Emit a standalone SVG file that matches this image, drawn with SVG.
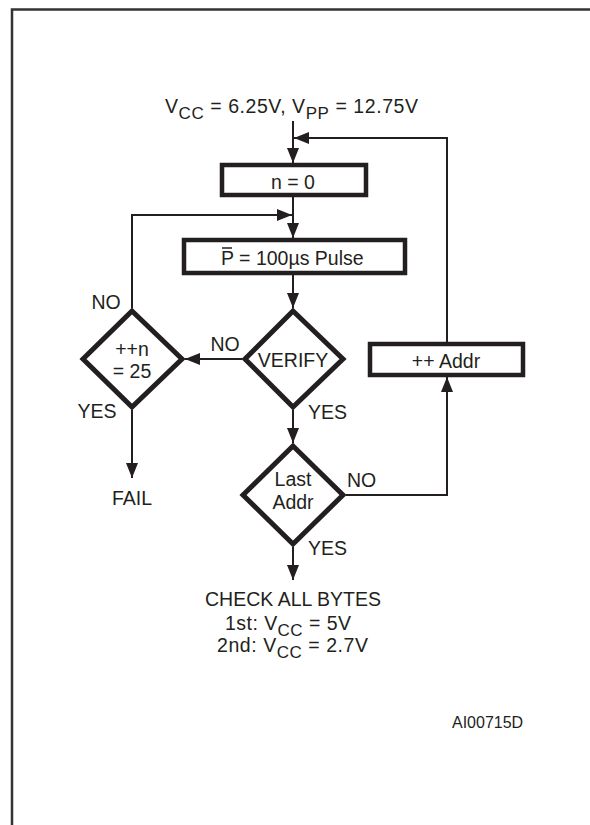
<svg xmlns="http://www.w3.org/2000/svg" width="590" height="825" viewBox="0 0 590 825">
<style>
text{font-family:"Liberation Sans",Arial,Helvetica,sans-serif;font-size:19.5px;fill:#231f20}
.c{text-anchor:middle}
.box{fill:#fff;stroke:#231f20;stroke-width:4.5}
.dia{fill:#fff;stroke:#231f20;stroke-width:5;stroke-linejoin:miter}
.con{fill:none;stroke:#231f20;stroke-width:2}
.frame{fill:none;stroke:#333;stroke-width:2.5}
</style>
<defs>
<marker id="ah" viewBox="0 0 15 12" refX="15" refY="6" markerWidth="15" markerHeight="12" markerUnits="userSpaceOnUse" orient="auto"><path d="M0,0 L15,6 L0,12 z" fill="#231f20"/></marker>
</defs>
<rect width="590" height="825" fill="#fff"/>
<path class="frame" d="M12,825 V9.5 H590"/>

<g id="connectors">
<path class="con" d="M293,121 V163" marker-end="url(#ah)"/>
<path class="con" d="M447,342 V138 H294" marker-end="url(#ah)"/>
<path class="con" d="M293,197 V238" marker-end="url(#ah)"/>
<path class="con" d="M132,308 V215 H292" marker-end="url(#ah)"/>
<path class="con" d="M293,275 V308" marker-end="url(#ah)"/>
<path class="con" d="M242,359 H185" marker-end="url(#ah)"/>
<path class="con" d="M293,410 V443" marker-end="url(#ah)"/>
<path class="con" d="M132,410 V478" marker-end="url(#ah)"/>
<path class="con" d="M346,495 H447 V377" marker-end="url(#ah)"/>
<path class="con" d="M293,547 V580" marker-end="url(#ah)"/>
</g>

<g id="start">
<text class="c" x="291.5" y="113" textLength="253" lengthAdjust="spacing">V<tspan dy="6" font-size="17">CC</tspan><tspan dy="-6"> = 6.25V, V</tspan><tspan dy="6" font-size="17">PP</tspan><tspan dy="-6"> = 12.75V</tspan></text>
</g>

<g id="n0">
<rect class="box" x="222" y="165" width="144" height="30"/>
<text class="c" x="293" y="189">n = 0</text>
</g>

<g id="pulse">
<rect class="box" x="184" y="240" width="221" height="33"/>
<text x="221" y="265">P = 100µs Pulse</text>
<line x1="222" y1="248" x2="232" y2="248" stroke="#231f20" stroke-width="1.5"/>
</g>

<g id="verify">
<polygon class="dia" points="293,311 343,359 293,407 245,359"/>
<text class="c" x="293" y="367">VERIFY</text>
<text class="c" x="225" y="351">NO</text>
<text x="308" y="419">YES</text>
</g>

<g id="incn">
<polygon class="dia" points="132,311 182,359 132,407 83,359"/>
<text class="c" x="132" y="356">++n</text>
<text class="c" x="132" y="378">= 25</text>
<text class="c" x="106" y="309">NO</text>
<text class="c" x="97" y="418">YES</text>
</g>

<g id="fail">
<text class="c" x="132" y="505">FAIL</text>
</g>

<g id="lastaddr">
<polygon class="dia" points="293,446 343,495 293,544 243,495"/>
<text class="c" x="293" y="486">Last</text>
<text class="c" x="293" y="509">Addr</text>
<text x="347" y="487">NO</text>
<text x="308" y="555">YES</text>
</g>

<g id="incaddr">
<rect class="box" x="370" y="344" width="153" height="31"/>
<text class="c" x="446" y="368">++ Addr</text>
</g>

<g id="check">
<text class="c" x="293" y="606">CHECK ALL BYTES</text>
<text class="c" x="288" y="630" textLength="126" lengthAdjust="spacing">1st: V<tspan dy="6" font-size="17">CC</tspan><tspan dy="-6"> = 5V</tspan></text>
<text class="c" x="292.5" y="652" textLength="151" lengthAdjust="spacing">2nd: V<tspan dy="6" font-size="17">CC</tspan><tspan dy="-6"> = 2.7V</tspan></text>
</g>

<text x="452" y="728" style="font-size:16px">AI00715D</text>
</svg>
